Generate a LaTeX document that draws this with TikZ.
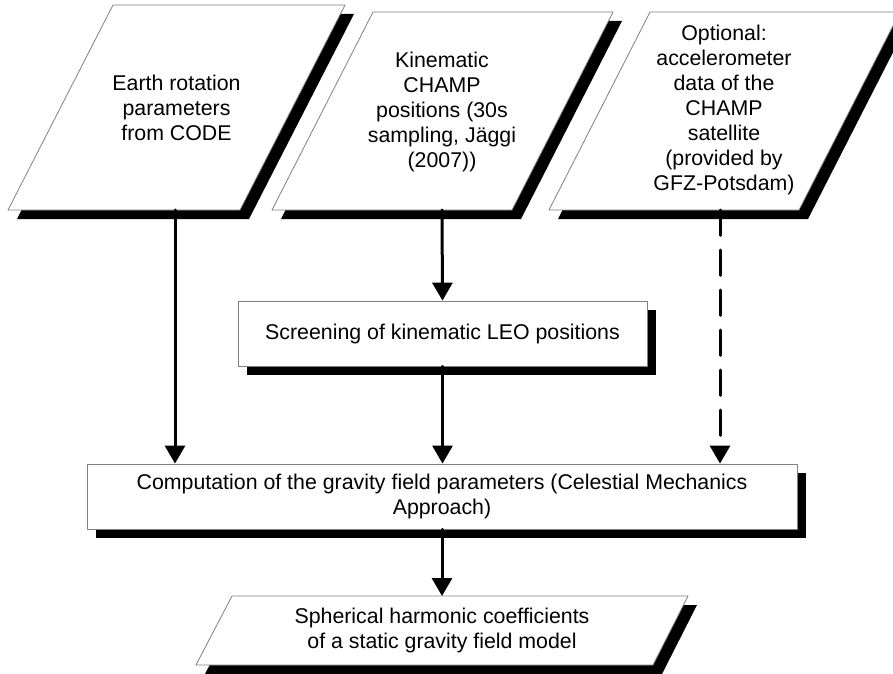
\documentclass[tikz,border=0pt]{standalone}
\usepackage{fontspec}
\setmainfont{Liberation Sans}
\usetikzlibrary{arrows.meta,shadows}

\tikzset{
  shade9/.style={drop shadow={shadow xshift=6.75pt,shadow yshift=-6.75pt,opacity=1,fill=black}},
  para/.style={draw=gray,line width=0.6pt,fill=white,shade9},
  box/.style={draw=gray,line width=0.6pt,fill=white,shade9,align=center,inner sep=0pt,
    font=\fontsize{16}{18.75}\selectfont},
  txt/.style={align=center,inner sep=0pt,font=\fontsize{16}{18.75}\selectfont},
  flow/.style={->,line width=2.25pt},
}

\begin{document}
\begin{tikzpicture}[line cap=round,line join=round,>={Triangle[width=15pt,length=13.5pt]},x=0.75pt,y=-0.75pt]
\useasboundingbox (0,0) rectangle (893,674);
\clip (0,0) rectangle (893,674);

\draw[para] (113,5) -- (345,5) -- (240,210) -- (8,210) -- cycle;
\node[txt] (erp) at (176.5,108) {Earth rotation\\parameters\\from CODE};
\coordinate (erp-out) at (175,210);

\draw[para] (373,12) -- (613,12) -- (512,210) -- (272,210) -- cycle;
\node[txt] (champ) at (442,112) {Kinematic\\CHAMP\\positions (30s\\sampling, J\"aggi\\(2007))};
\coordinate (champ-out) at (442,210);

\draw[para] (650,12) -- (900,12) -- (799,210) -- (549,210) -- cycle;
\node[txt] (accel) at (724,110) {Optional:\\accelerometer\\data of the\\CHAMP\\satellite\\(provided by\\GFZ-Potsdam)};
\coordinate (accel-out) at (720,210);

\node[box,minimum width=306.75pt,minimum height=48.75pt] (screen) at (442.5,333.5)
  {Screening of kinematic LEO positions};

\node[box,minimum width=532.5pt,minimum height=48.75pt] (comp) at (442,496.5)
  {Computation of the gravity field parameters (Celestial Mechanics\\Approach)};

\draw[para] (232,596) -- (688,596) -- (653,665) -- (196,665) -- cycle;
\node[txt] (coeff) at (442,630.5) {Spherical harmonic coefficients\\of a static gravity field model};
\coordinate (coeff-in) at (442,596);

\draw[flow] (erp-out) -- (erp-out |- comp.north);
\draw[flow] (champ-out) -- (screen.north);
\draw[flow] (screen.south) -- (screen.south |- comp.north);
\draw[flow,dash pattern=on 19pt off 11pt] (accel-out) -- (accel-out |- comp.north);
\draw[flow] (comp.south) -- (coeff-in);
\end{tikzpicture}
\end{document}
